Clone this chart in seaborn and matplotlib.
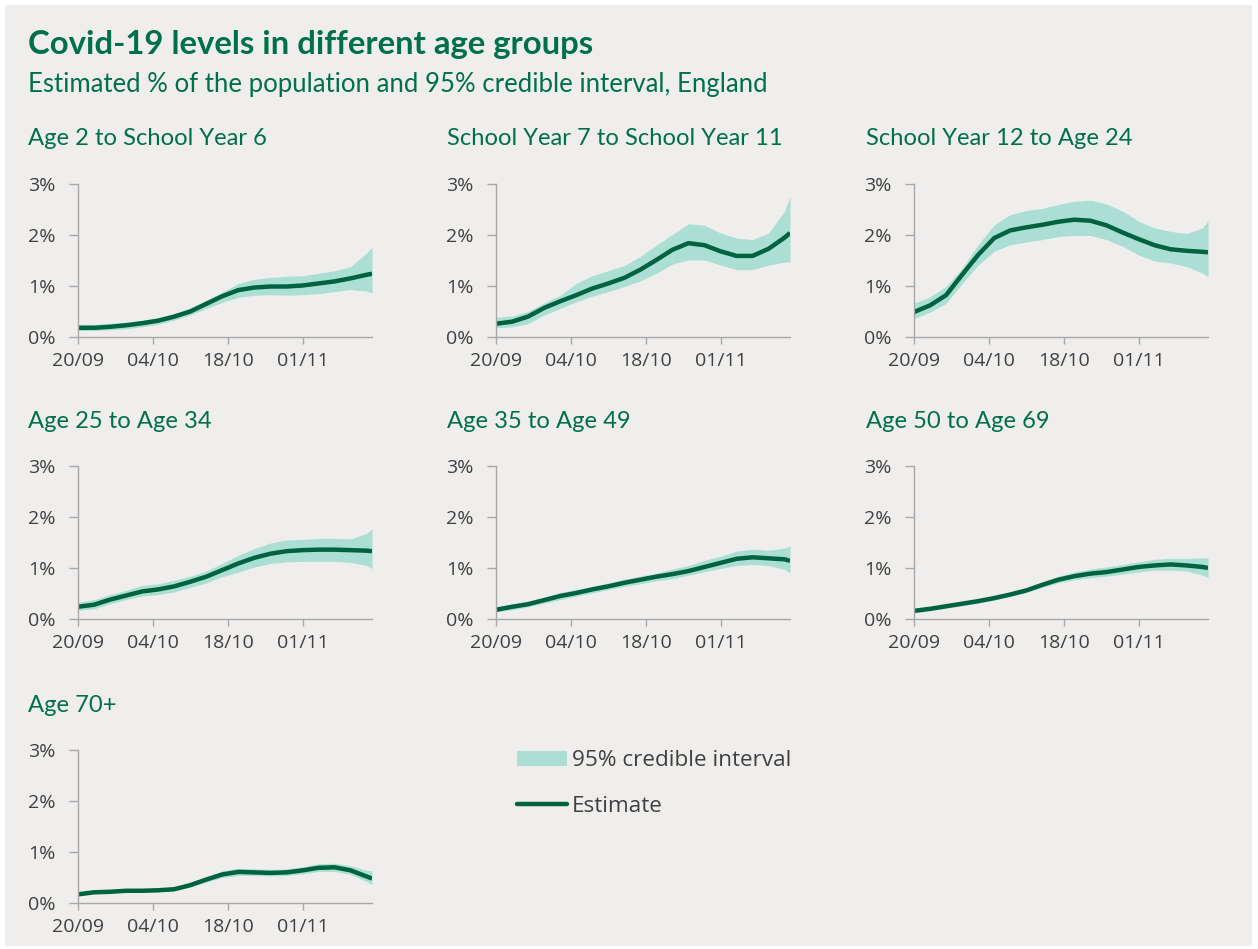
import matplotlib
matplotlib.use("Agg")
import matplotlib.pyplot as plt
import matplotlib.dates as mdates
from matplotlib.patches import Rectangle, Patch
from matplotlib.lines import Line2D
import numpy as np
import pandas as pd
import seaborn as sns

# ---------------- data ----------------
dates = ["2020-09-20", "2020-09-23", "2020-09-26", "2020-09-29", "2020-10-02",
         "2020-10-05", "2020-10-08", "2020-10-11", "2020-10-14", "2020-10-17",
         "2020-10-20", "2020-10-23", "2020-10-26", "2020-10-29", "2020-11-01",
         "2020-11-04", "2020-11-07", "2020-11-10", "2020-11-13", "2020-11-14"]

groups = ["Age 2 to School Year 6", "School Year 7 to School Year 11",
          "School Year 12 to Age 24", "Age 25 to Age 34", "Age 35 to Age 49",
          "Age 50 to Age 69", "Age 70+"]

est_age2_sy6 = [0.18, 0.18, 0.20, 0.23, 0.27, 0.32, 0.40, 0.50, 0.65, 0.80,
                0.92, 0.97, 0.99, 0.99, 1.01, 1.05, 1.09, 1.15, 1.22, 1.24]
low_age2_sy6 = [0.13, 0.13, 0.14, 0.16, 0.20, 0.25, 0.33, 0.43, 0.56, 0.68,
                0.78, 0.82, 0.83, 0.82, 0.83, 0.85, 0.89, 0.93, 0.90, 0.86]
upp_age2_sy6 = [0.25, 0.25, 0.27, 0.29, 0.33, 0.38, 0.46, 0.57, 0.72, 0.88,
                1.05, 1.13, 1.17, 1.19, 1.20, 1.25, 1.30, 1.38, 1.65, 1.76]

est_sy7_sy11 = [0.26, 0.30, 0.40, 0.57, 0.70, 0.82, 0.95, 1.05, 1.16, 1.32,
                1.51, 1.71, 1.84, 1.80, 1.68, 1.59, 1.59, 1.73, 1.95, 2.04]
low_sy7_sy11 = [0.18, 0.20, 0.26, 0.43, 0.56, 0.69, 0.80, 0.89, 0.99, 1.10,
                1.25, 1.43, 1.51, 1.51, 1.41, 1.32, 1.32, 1.41, 1.47, 1.47]
upp_sy7_sy11 = [0.39, 0.41, 0.50, 0.67, 0.82, 1.05, 1.20, 1.30, 1.40, 1.58,
                1.80, 2.01, 2.22, 2.19, 2.04, 1.94, 1.91, 2.04, 2.47, 2.76]

est_sy12_24 = [0.49, 0.62, 0.82, 1.22, 1.61, 1.94, 2.09, 2.15, 2.20, 2.26,
               2.30, 2.28, 2.19, 2.05, 1.92, 1.80, 1.72, 1.69, 1.67, 1.66]
low_sy12_24 = [0.36, 0.49, 0.66, 1.05, 1.41, 1.68, 1.81, 1.86, 1.91, 1.97,
               1.99, 1.99, 1.91, 1.78, 1.61, 1.49, 1.45, 1.38, 1.25, 1.18]
upp_sy12_24 = [0.66, 0.79, 0.99, 1.35, 1.81, 2.20, 2.40, 2.48, 2.52, 2.60,
               2.66, 2.68, 2.61, 2.47, 2.27, 2.14, 2.07, 2.03, 2.14, 2.28]

est_25_34 = [0.24, 0.28, 0.38, 0.46, 0.54, 0.58, 0.64, 0.73, 0.83, 0.96,
             1.09, 1.20, 1.28, 1.33, 1.35, 1.36, 1.36, 1.35, 1.34, 1.33]
low_25_34 = [0.17, 0.20, 0.30, 0.38, 0.45, 0.48, 0.53, 0.62, 0.71, 0.83,
             0.92, 1.02, 1.09, 1.12, 1.13, 1.13, 1.13, 1.11, 1.05, 0.99]
upp_25_34 = [0.33, 0.38, 0.48, 0.56, 0.66, 0.69, 0.76, 0.84, 0.94, 1.09,
             1.25, 1.38, 1.49, 1.55, 1.56, 1.58, 1.58, 1.57, 1.68, 1.77]

est_35_49 = [0.18, 0.24, 0.29, 0.37, 0.45, 0.51, 0.58, 0.64, 0.71, 0.77,
             0.83, 0.88, 0.94, 1.02, 1.10, 1.18, 1.21, 1.19, 1.17, 1.14]
low_35_49 = [0.14, 0.18, 0.24, 0.31, 0.38, 0.45, 0.51, 0.58, 0.64, 0.69,
             0.75, 0.79, 0.86, 0.93, 0.99, 1.05, 1.07, 1.05, 0.97, 0.90]
upp_35_49 = [0.24, 0.29, 0.35, 0.43, 0.52, 0.58, 0.64, 0.71, 0.78, 0.84,
             0.90, 0.98, 1.05, 1.15, 1.23, 1.33, 1.37, 1.35, 1.39, 1.43]

est_50_69 = [0.16, 0.20, 0.25, 0.30, 0.35, 0.41, 0.48, 0.56, 0.67, 0.77,
             0.84, 0.89, 0.92, 0.97, 1.02, 1.05, 1.07, 1.05, 1.02, 1.00]
low_50_69 = [0.12, 0.16, 0.21, 0.26, 0.31, 0.37, 0.44, 0.52, 0.62, 0.71,
             0.77, 0.81, 0.84, 0.88, 0.92, 0.96, 0.96, 0.94, 0.86, 0.81]
upp_50_69 = [0.20, 0.24, 0.28, 0.33, 0.38, 0.45, 0.52, 0.61, 0.72, 0.84,
             0.92, 0.98, 1.02, 1.07, 1.12, 1.17, 1.19, 1.19, 1.20, 1.20]

est_70p = [0.17, 0.21, 0.22, 0.24, 0.24, 0.25, 0.27, 0.35, 0.46, 0.56,
           0.61, 0.60, 0.59, 0.60, 0.64, 0.69, 0.70, 0.64, 0.52, 0.48]
low_70p = [0.14, 0.18, 0.19, 0.21, 0.21, 0.22, 0.24, 0.31, 0.41, 0.50,
           0.54, 0.54, 0.53, 0.54, 0.57, 0.62, 0.62, 0.56, 0.42, 0.36]
upp_70p = [0.20, 0.24, 0.25, 0.27, 0.27, 0.28, 0.31, 0.39, 0.52, 0.63,
           0.68, 0.67, 0.66, 0.67, 0.71, 0.77, 0.78, 0.73, 0.64, 0.63]

estimates = [est_age2_sy6, est_sy7_sy11, est_sy12_24, est_25_34, est_35_49, est_50_69, est_70p]
lowers = [low_age2_sy6, low_sy7_sy11, low_sy12_24, low_25_34, low_35_49, low_50_69, low_70p]
uppers = [upp_age2_sy6, upp_sy7_sy11, upp_sy12_24, upp_25_34, upp_35_49, upp_50_69, upp_70p]

x_ticks = ["2020-09-20", "2020-10-04", "2020-10-18", "2020-11-01"]
y_ticks = [0, 1, 2, 3]
y_tick_labels = ["0%", "1%", "2%", "3%"]

title = "Covid-19 levels in different age groups"
subtitle = "Estimated % of the population and 95% credible interval, England"
legend_labels = ["95% credible interval", "Estimate"]

# ---------------- style ----------------
sns.set_theme(style="white")
plt.rcParams["font.family"] = ["Open Sans", "DejaVu Sans"]

W, H = 1258, 949
BG = "#efeeec"
GREEN_TEXT = "#00704a"
LINE = "#00623f"
FILL = "#abdfd4"
TICK_TXT = "#404040"
SPINE = "#a8a8a8"
TFONT = ["Lato", "DejaVu Sans"]

fig = plt.figure(figsize=(W / 100, H / 100), dpi=100)
fig.patch.set_facecolor("white")
fig.add_artist(Rectangle((5 / W, 1 - 946 / H), (1252 - 5) / W, (946 - 5) / H,
                         transform=fig.transFigure, facecolor=BG, edgecolor="none", zorder=0))

fig.text(28 / W, 1 - 54 / H, title, fontsize=23.7, fontweight="bold", color=GREEN_TEXT,
         va="baseline", ha="left", family=TFONT)
fig.text(28 / W, 1 - 92 / H, subtitle, fontsize=18.5, color=GREEN_TEXT,
         va="baseline", ha="left", family=TFONT)

col_left = [78, 496, 914]
row_top = [184, 466, 750]
title_x = [28, 447, 866]
title_base = [145, 428, 712]
ax_w, ax_h = 294, 153

x0 = pd.Timestamp("2020-09-20")
x1 = pd.Timestamp("2020-11-14")

for i, g in enumerate(groups):
    r, c = divmod(i, 3)
    left = col_left[c]
    top = row_top[r]
    ax = fig.add_axes([left / W, 1 - (top + ax_h) / H, ax_w / W, ax_h / H])
    ax.set_facecolor("none")
    df = pd.DataFrame({"date": pd.to_datetime(dates), "est": estimates[i],
                       "low": lowers[i], "upp": uppers[i]})
    ax.fill_between(df["date"], df["low"], df["upp"], color=FILL, linewidth=0, zorder=1)
    sns.lineplot(data=df, x="date", y="est", ax=ax, color=LINE, linewidth=3.2, zorder=2)
    for ln in ax.lines:
        ln.set_solid_joinstyle("round")
        ln.set_solid_capstyle("butt")
    ax.set_xlim(x0, x1)
    ax.set_ylim(0, 3)
    ax.set_xlabel("")
    ax.set_ylabel("")
    ax.set_yticks(y_ticks)
    ax.set_yticklabels(y_tick_labels)
    ax.set_xticks(pd.to_datetime(x_ticks))
    ax.xaxis.set_major_formatter(mdates.DateFormatter("%d/%m"))
    for s in ["top", "right"]:
        ax.spines[s].set_visible(False)
    for s in ["left", "bottom"]:
        ax.spines[s].set_color(SPINE)
        ax.spines[s].set_linewidth(1.0)
    ax.tick_params(axis="y", direction="out", length=6.5, width=1, color=SPINE,
                   labelsize=14, labelcolor=TICK_TXT, pad=10, left=True)
    ax.tick_params(axis="x", direction="out", length=5, width=1, color=SPINE,
                   labelsize=14, labelcolor=TICK_TXT, pad=6, bottom=True)
    ax.grid(False)
    fig.text(title_x[c] / W, 1 - title_base[r] / H, g, fontsize=17.1, color=GREEN_TEXT,
             va="baseline", ha="left", family=TFONT)

handles = [Patch(facecolor=FILL, edgecolor="none"),
           Line2D([0], [0], color=LINE, linewidth=3.2)]
fig.legend(handles, legend_labels, loc="upper left",
           bbox_to_anchor=(517 / W, 1 - 750 / H), frameon=False, fontsize=16.2,
           handlelength=2.2, handleheight=0.65, handletextpad=0.25, labelspacing=1.1,
           borderpad=0, borderaxespad=0, labelcolor=TICK_TXT)

fig.savefig("out.png", dpi=100, facecolor=fig.get_facecolor())
